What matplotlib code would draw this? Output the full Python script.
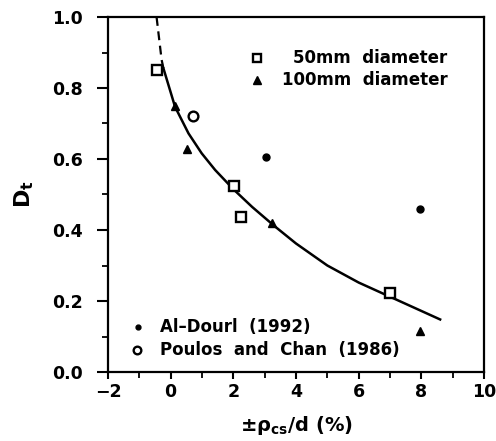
import matplotlib
matplotlib.use("Agg")
import matplotlib.pyplot as plt
from matplotlib.ticker import MultipleLocator

# Data
sq50_x = [-0.43, 2.03, 2.25, 7.0]
sq50_y = [0.850, 0.524, 0.437, 0.223]
tri100_x = [0.15, 0.52, 3.24, 7.97]
tri100_y = [0.750, 0.628, 0.420, 0.115]
aldouri_x = [3.05, 7.97]
aldouri_y = [0.605, 0.459]
poulos_x = [0.72]
poulos_y = [0.720]
curve_x = [-0.23, 0.14, 0.57, 0.99, 1.42, 2.0, 2.6, 3.3, 4.0, 5.0, 6.0, 7.0, 7.8, 8.6]
curve_y = [0.855, 0.747, 0.672, 0.616, 0.569, 0.515, 0.465, 0.412, 0.362, 0.300, 0.252, 0.212, 0.180, 0.148]
dash_x = [-0.45, -0.37, -0.29, -0.23]
dash_y = [1.0, 0.94, 0.88, 0.855]
yticks = [0, 0.2, 0.4, 0.6, 0.8, 1.0]
ytick_labels = ['0.0', '0.2', '0.4', '0.6', '0.8', '1.0']
xticks = [-2, 0, 2, 4, 6, 8, 10]
xtick_labels = ['\u22122', '0', '2', '4', '6', '8', '10']

plt.rcParams['font.family'] = ['DejaVu Sans']
plt.rcParams['font.weight'] = 'bold'
plt.rcParams['mathtext.default'] = 'bf'

fig = plt.figure(figsize=(4.96, 4.41), dpi=100)
ax = fig.add_axes([108/496, 1-372/441, 376/496, 355/441])

ax.plot(dash_x, dash_y, color='black', lw=1.6, ls=(0, (4, 2.5)))
ax.plot(curve_x, curve_y, color='black', lw=1.8, solid_joinstyle='round')

ax.plot(sq50_x, sq50_y, ls='none', marker='s', ms=6.5, mfc='white', mec='black', mew=1.7)
ax.plot(tri100_x, tri100_y, ls='none', marker='^', ms=6, mfc='black', mec='black')
ax.plot(aldouri_x, aldouri_y, ls='none', marker='o', ms=5, mfc='black', mec='black')
ax.plot(poulos_x, poulos_y, ls='none', marker='o', ms=7, mfc='white', mec='black', mew=1.7)

ax.set_xlim(-2, 10)
ax.set_ylim(0, 1.0)
ax.xaxis.set_minor_locator(MultipleLocator(1))
ax.yaxis.set_minor_locator(MultipleLocator(0.1))
ax.set_yticks(yticks)
ax.set_yticklabels(ytick_labels)
ax.set_xticks(xticks)
ax.set_xticklabels(xtick_labels)
ax.tick_params(axis='y', which='major', direction='out', length=8, width=1.5, labelsize=12.5, pad=10)
ax.tick_params(axis='y', which='minor', direction='out', length=4, width=1.3)
ax.tick_params(axis='x', which='major', direction='out', length=5, width=1.5, labelsize=12.5, pad=3)
ax.tick_params(axis='x', which='minor', direction='out', length=4, width=1.3)
ax.tick_params(top=False, right=False)
for s in ax.spines.values():
    s.set_linewidth(1.6)

ax.set_xlabel(r'$\pm\rho_{cs}$/d (%)', fontsize=14, fontweight='bold', labelpad=9)
ax.set_ylabel(r'D$_{\mathrm{t}}$', fontsize=16, fontweight='bold', labelpad=12)

# legend 1 (top right)
ax.plot([2.76], [0.885], ls='none', marker='s', ms=5.5, mfc='white', mec='black', mew=1.7)
ax.text(3.9, 0.885, '50mm  diameter', fontsize=12, va='center', ha='left')
ax.plot([2.76], [0.822], ls='none', marker='^', ms=5.5, mfc='black', mec='black')
ax.text(3.55, 0.822, '100mm  diameter', fontsize=12, va='center', ha='left')
# legend 2 (bottom left)
ax.plot([-1.04], [0.127], ls='none', marker='o', ms=3.5, mfc='black', mec='black')
ax.text(-0.34, 0.127, 'Al\u2013Dourl  (1992)', fontsize=12, va='center', ha='left')
ax.plot([-1.07], [0.062], ls='none', marker='o', ms=5.5, mfc='white', mec='black', mew=1.7)
ax.text(-0.34, 0.062, 'Poulos  and  Chan  (1986)', fontsize=12, va='center', ha='left')

fig.savefig('out.png', dpi=100)
